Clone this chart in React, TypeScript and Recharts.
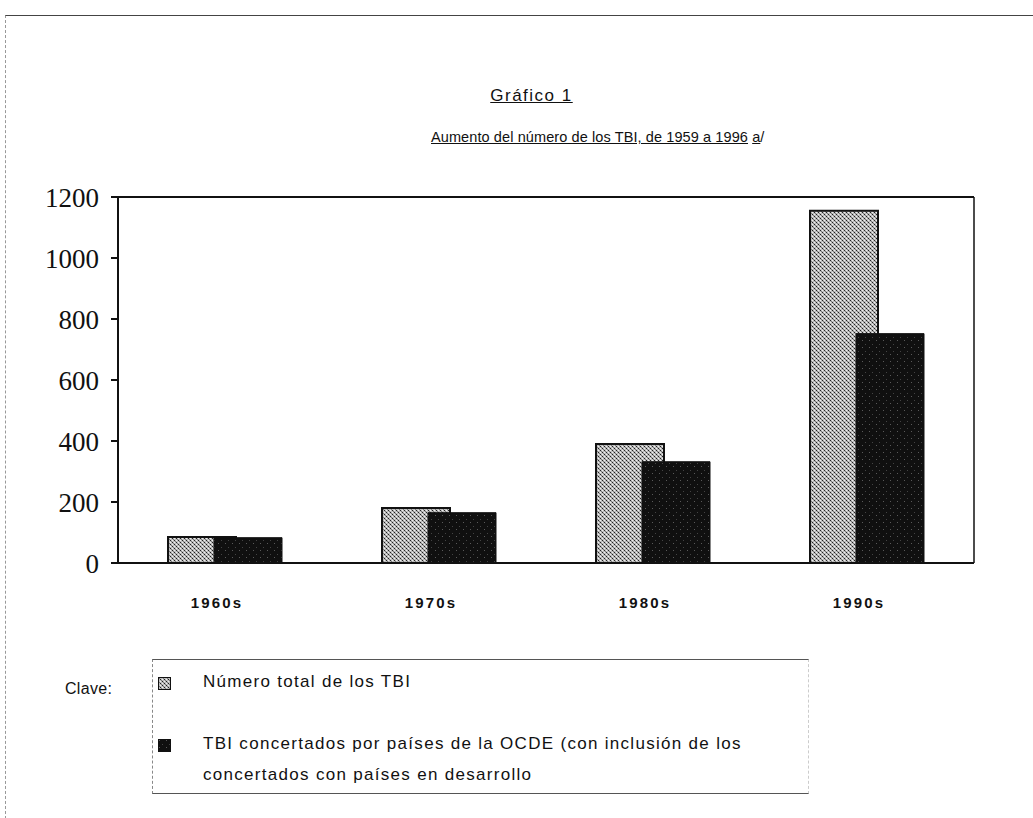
import { Bar, BarChart, XAxis, YAxis } from "recharts";

const decades = ["1960s", "1970s", "1980s", "1990s"];
const totalTbi = [85, 180, 390, 1155];
const ocdeTbi = [83, 165, 332, 752];
const yTicks = [0, 200, 400, 600, 800, 1000, 1200];

const seriesNames = [
  "Número total de los TBI",
  "TBI concertados por países de la OCDE (con inclusión de los",
];
const seriesNote = "concertados con países en desarrollo";

const data = decades.map((d, i) => ({
  decade: d,
  total: totalTbi[i],
  ocde: ocdeTbi[i],
}));

const SANS = "'Liberation Sans', Arial, sans-serif";
const SERIF = "'Liberation Serif', 'Times New Roman', serif";

function Patterns() {
  return (
    <svg width={0} height={0} style={{ position: "absolute" }}>
      <defs>
        <pattern id="lightDots" width={4} height={4} patternUnits="userSpaceOnUse">
          <rect width={4} height={4} fill="#bdbdbd" />
          <rect x={0} y={0} width={1} height={1} fill="#222" />
          <rect x={2} y={2} width={1} height={1} fill="#222" />
          <rect x={1} y={1} width={1} height={1} fill="#777" />
          <rect x={3} y={3} width={1} height={1} fill="#777" />
          <rect x={2} y={0} width={1} height={1} fill="#eee" />
          <rect x={0} y={2} width={1} height={1} fill="#eee" />
        </pattern>
        <pattern id="darkDots" width={7} height={7} patternUnits="userSpaceOnUse">
          <rect width={7} height={7} fill="#101010" />
          <rect x={1} y={1} width={1} height={1} fill="#5a5a5a" />
          <rect x={4} y={5} width={1} height={1} fill="#444" />
        </pattern>
      </defs>
    </svg>
  );
}

function Swatch({ fill }: { fill: string }) {
  return (
    <svg width={13} height={13} style={{ position: "absolute", left: 5, top: 0 }}>
      <rect x={0.5} y={0.5} width={12} height={12} fill={fill} stroke="#111" />
    </svg>
  );
}

export default function App() {
  return (
    <div
      style={{
        position: "absolute",
        left: 0,
        top: 0,
        width: 1033,
        height: 818,
        background: "#fff",
        fontFamily: SANS,
        color: "#111",
      }}
    >
      <Patterns />
      {/* page frame lines */}
      <div
        style={{
          position: "absolute",
          left: 5,
          top: 15,
          width: 1028,
          height: 803,
          borderTop: "1px solid #444",
          borderLeft: "1px dashed #999",
        }}
      />
      <div
        style={{
          position: "absolute",
          left: 0,
          width: 1063,
          top: 86,
          textAlign: "center",
          fontSize: 17,
          letterSpacing: 1.5,
          textDecoration: "underline",
        }}
      >
        Gráfico 1
      </div>
      <div
        style={{
          position: "absolute",
          left: 431,
          top: 129,
          fontSize: 14.5,
          letterSpacing: 0.1,
          whiteSpace: "nowrap",
        }}
      >
        <span style={{ textDecoration: "underline" }}>
          Aumento del número de los TBI, de 1959 a 1996
        </span>{" "}
        <span style={{ textDecoration: "underline" }}>a</span>/
      </div>

      <div style={{ position: "absolute", left: 0, top: 150 }}>
        <BarChart
          width={1033}
          height={500}
          data={data}
          margin={{ top: 46, right: 58, bottom: 47, left: 58 }}
          barSize={68}
          barGap={-22}
        >
          <XAxis
            dataKey="decade"
            stroke="#111"
            strokeWidth={2}
            tickLine={false}
            tickMargin={28}
            height={40}
            tick={{
              fontSize: 15,
              fill: "#111",
              fontFamily: SANS,
              fontWeight: 600,
              letterSpacing: 2.2,
              dx: -8,
            }}
          />
          <XAxis
            xAxisId="top"
            orientation="top"
            dataKey="decade"
            stroke="#111"
            strokeWidth={2}
            tick={false}
            tickLine={false}
            height={1}
          />
          <YAxis
            domain={[0, 1200]}
            ticks={yTicks}
            stroke="#111"
            strokeWidth={2}
            tickSize={7}
            tickMargin={12}
            width={60}
            interval={0}
            tick={{ fontSize: 27, fill: "#111", fontFamily: SERIF }}
          />
          <YAxis
            yAxisId="right"
            orientation="right"
            domain={[0, 1200]}
            stroke="#111"
            strokeWidth={1.5}
            tick={false}
            tickLine={false}
            width={1}
          />
          <Bar
            dataKey="total"
            name={seriesNames[0]}
            fill="url(#lightDots)"
            stroke="#111"
            strokeWidth={2}
            isAnimationActive={false}
          />
          <Bar
            dataKey="ocde"
            name={seriesNames[1]}
            fill="url(#darkDots)"
            stroke="#111"
            strokeWidth={1}
            isAnimationActive={false}
          />
        </BarChart>
      </div>

      {/* legend */}
      <div style={{ position: "absolute", left: 65, top: 680, fontSize: 16, letterSpacing: 0.3 }}>
        Clave:
      </div>
      <div
        style={{
          position: "absolute",
          left: 152,
          top: 659,
          width: 655,
          height: 133,
          borderTop: "1px solid #555",
          borderBottom: "1px solid #555",
          borderLeft: "1px dashed #888",
          borderRight: "1px dashed #ccc",
          fontSize: 17,
          letterSpacing: 1.3,
        }}
      >
        <div style={{ position: "absolute", left: 0, top: 17, width: 640, height: 16 }}>
          <Swatch fill="url(#lightDots)" />
          <span style={{ position: "absolute", left: 50, top: -5, whiteSpace: "nowrap" }}>
            {seriesNames[0]}
          </span>
        </div>
        <div style={{ position: "absolute", left: 0, top: 79, width: 640, height: 16 }}>
          <Swatch fill="url(#darkDots)" />
          <span style={{ position: "absolute", left: 50, top: -5, whiteSpace: "nowrap" }}>
            {seriesNames[1]}
          </span>
        </div>
        <div style={{ position: "absolute", left: 50, top: 105, whiteSpace: "nowrap" }}>
          {seriesNote}
        </div>
      </div>
    </div>
  );
}
